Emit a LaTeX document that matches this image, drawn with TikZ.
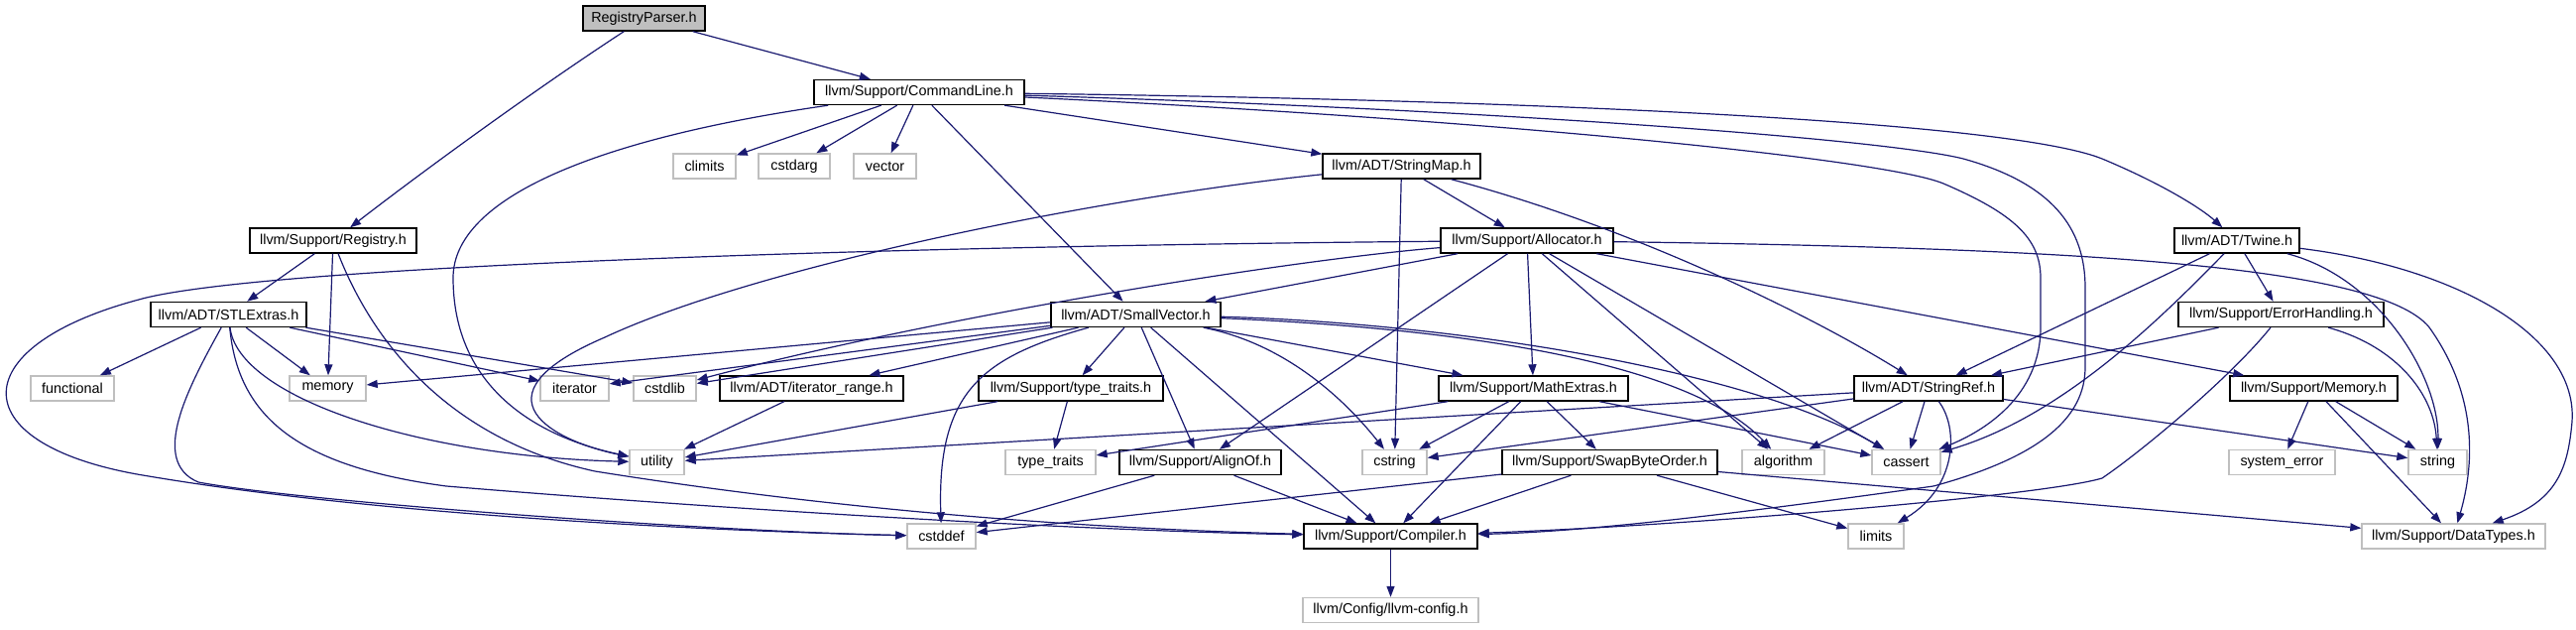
\documentclass[tikz,border=0pt]{standalone}
\usepackage{fontspec}
\setmainfont{Liberation Sans}
\usetikzlibrary{arrows.meta}
\definecolor{edgeblue}{HTML}{191970}
\definecolor{grayline}{HTML}{BFBFBF}
\definecolor{rootfill}{HTML}{BFBFBF}
\begin{document}
\begin{tikzpicture}[x=0.5pt,y=-0.5pt,
  hdr/.style={draw=black, fill=white, line width=0.7pt, minimum height=12.5pt, inner sep=0pt, font=\fontsize{7.2}{8}\selectfont, text=black},
  sysbox/.style={hdr, draw=grayline},
  rootbox/.style={hdr, fill=rootfill},
  edge/.style={draw=edgeblue, line width=0.6pt, -{Triangle[length=5.5pt,width=4pt]}}]
\fill[white] (0,0) rectangle (2598,635);
\useasboundingbox (0,0) rectangle (2598,635);
% row 0
\node[rootbox, minimum width=61.5pt] (rp) at (649.5,18.5) {RegistryParser.h};
% row 1
\node[hdr, minimum width=106pt] (cl) at (927,93) {llvm/Support/CommandLine.h};
% row 2
\node[sysbox, minimum width=31.5pt] (climits) at (710.5,167.5) {climits};
\node[sysbox, minimum width=36pt] (cstdarg) at (801,167.5) {cstdarg};
\node[sysbox, minimum width=31.5pt] (vector) at (892.5,167.5) {vector};
\node[hdr, minimum width=79.5pt] (smap) at (1413.5,167.5) {llvm/ADT/StringMap.h};
% row 3
\node[hdr, minimum width=84pt] (reg) at (336,242.5) {llvm/Support/Registry.h};
\node[hdr, minimum width=87pt] (alloc) at (1540,242.5) {llvm/Support/Allocator.h};
\node[hdr, minimum width=63pt] (twine) at (2256,242.5) {llvm/ADT/Twine.h};
% row 4
\node[hdr, minimum width=78.5pt] (stl) at (230.5,317) {llvm/ADT/STLExtras.h};
\node[hdr, minimum width=85.5pt] (sv) at (1145.5,317) {llvm/ADT/SmallVector.h};
\node[hdr, minimum width=103.5pt] (eh) at (2300.5,317) {llvm/Support/ErrorHandling.h};
% row 5
\node[sysbox, minimum width=42pt] (functional) at (73,391.5) {functional};
\node[sysbox, minimum width=38.5pt] (memory) at (330.5,391.5) {memory};
\node[sysbox, minimum width=34.5pt] (iterator) at (579.5,391.5) {iterator};
\node[sysbox, minimum width=31.5pt] (cstdlib) at (670.5,391.5) {cstdlib};
\node[hdr, minimum width=92.5pt] (itr) at (818.5,391.5) {llvm/ADT/iterator\_range.h};
\node[hdr, minimum width=93pt] (tt) at (1080,391.5) {llvm/Support/type\_traits.h};
\node[hdr, minimum width=95.5pt] (math) at (1546.5,391.5) {llvm/Support/MathExtras.h};
\node[hdr, minimum width=75pt] (sref) at (1945,391.5) {llvm/ADT/StringRef.h};
\node[hdr, minimum width=84.5pt] (mem) at (2333.5,391.5) {llvm/Support/Memory.h};
% row 6
\node[sysbox, minimum width=27.5pt] (utility) at (662.5,466) {utility};
\node[sysbox, minimum width=45.5pt] (stt) at (1059.5,466) {type\_traits};
\node[hdr, minimum width=81.5pt] (align) at (1210.5,466) {llvm/Support/AlignOf.h};
\node[sysbox, minimum width=32.5pt] (cstring) at (1406.5,466) {cstring};
\node[hdr, minimum width=108.5pt] (swap) at (1623.5,466) {llvm/Support/SwapByteOrder.h};
\node[sysbox, minimum width=41.5pt] (algorithm) at (1798.5,466) {algorithm};
\node[sysbox, minimum width=34.5pt] (cassert) at (1922.5,466) {cassert};
\node[sysbox, minimum width=53.5pt] (syserr) at (2301.5,466) {system\_error};
\node[sysbox, minimum width=29.5pt] (string) at (2458.5,466) {string};
% row 7
\node[sysbox, minimum width=34.5pt] (cstddef) at (949.5,540.5) {cstddef};
\node[hdr, minimum width=87.5pt] (comp) at (1402.5,540.5) {llvm/Support/Compiler.h};
\node[sysbox, minimum width=28pt] (limits) at (1892,540.5) {limits};
\node[sysbox, minimum width=92.5pt] (dt) at (2474.5,540.5) {llvm/Support/DataTypes.h};
% row 8
\node[sysbox, minimum width=88.5pt] (cfg) at (1402.5,615) {llvm/Config/llvm-config.h};

% ---- edges ----
% RegistryParser
\draw[edge] (rp) .. controls (540,90) and (430,170) .. (reg);
\draw[edge] (rp) -- (cl);
% CommandLine
\draw[edge] (cl) -- (climits);
\draw[edge] (cl) -- (cstdarg);
\draw[edge] (cl) -- (vector);
\draw[edge] (cl) -- (sv);
\draw[edge] (cl) -- (smap);
\draw[edge] (cl) .. controls (600,140) and (457,200) .. (457,280) .. controls (457,390) and (540,440) .. (utility);
\draw[edge] (cl) .. controls (1500,100) and (2020,120) .. (2120,160) .. controls (2180,185) and (2220,210) .. (twine);
\draw[edge] (cl) .. controls (1500,120) and (1900,160) .. (1960,185) .. controls (2030,215) and (2058,240) .. (2058,280) -- (2058,330) .. controls (2058,400) and (2000,435) .. (cassert);
\draw[edge] (cl) .. controls (1500,110) and (1900,140) .. (1980,160) .. controls (2070,185) and (2103,230) .. (2103,290) -- (2103,370) .. controls (2103,420) and (2060,460) .. (1950,490) .. controls (1750,518) and (1600,536) .. (comp);
% StringMap
\draw[edge] (smap) -- (cstring);
\draw[edge] (smap) -- (alloc);
\draw[edge] (smap) .. controls (1650,230) and (1830,320) .. (sref);
\draw[edge] (smap) .. controls (1100,200) and (760,270) .. (610,340) .. controls (470,400) and (560,445) .. (utility);
% Registry
\draw[edge] (reg) -- (stl);
\draw[edge] (reg) -- (memory);
\draw[edge] (reg) .. controls (370,330) and (440,440) .. (600,475) .. controls (850,515) and (1100,533) .. (comp);
% Allocator
\draw[edge] (alloc) .. controls (900,248) and (260,268) .. (140,302) .. controls (-40,350) and (-40,450) .. (150,480) .. controls (400,522) and (750,536) .. (cstddef);
\draw[edge] (alloc) .. controls (1300,262) and (950,318) .. (cstdlib);
\draw[edge] (alloc) -- (sv);
\draw[edge] (alloc) -- (align);
\draw[edge] (alloc) -- (math);
\draw[edge] (alloc) -- (algorithm);
\draw[edge] (alloc) -- (cassert);
\draw[edge] (alloc) -- (mem);
\draw[edge] (alloc) .. controls (2100,250) and (2400,268) .. (2450,330) .. controls (2500,400) and (2495,470) .. (dt);
% Twine
\draw[edge] (twine) -- (sref);
\draw[edge] (twine) .. controls (2180,320) and (2080,420) .. (cassert);
\draw[edge] (twine) -- (eh);
\draw[edge] (twine) .. controls (2400,280) and (2460,380) .. (string);
\draw[edge] (twine) .. controls (2480,270) and (2600,340) .. (2594,425) .. controls (2590,470) and (2580,505) .. (dt);
% ErrorHandling
\draw[edge] (eh) -- (sref);
\draw[edge] (eh) .. controls (2420,350) and (2455,400) .. (string);
\draw[edge] (eh) .. controls (2250,380) and (2160,455) .. (2120,482) .. controls (2060,500) and (1700,530) .. (comp);
% Memory
\draw[edge] (mem) -- (syserr);
\draw[edge] (mem) -- (string);
\draw[edge] (mem) -- (dt);
% StringRef
\draw[edge] (sref) -- (utility);
\draw[edge] (sref) -- (cstring);
\draw[edge] (sref) -- (algorithm);
\draw[edge] (sref) -- (cassert);
\draw[edge] (sref) -- (string);
\draw[edge] (sref) .. controls (1975,430) and (1975,490) .. (limits);
% MathExtras
\draw[edge] (math) -- (stt);
\draw[edge] (math) -- (cstring);
\draw[edge] (math) -- (comp);
\draw[edge] (math) -- (swap);
\draw[edge] (math) -- (cassert);
% SwapByteOrder
\draw[edge] (swap) -- (cstddef);
\draw[edge] (swap) -- (comp);
\draw[edge] (swap) -- (limits);
\draw[edge] (swap) -- (dt);
% AlignOf
\draw[edge] (align) -- (cstddef);
\draw[edge] (align) -- (comp);
% type_traits.h
\draw[edge] (tt) -- (utility);
\draw[edge] (tt) -- (stt);
% iterator_range
\draw[edge] (itr) -- (utility);
% SmallVector
\draw[edge] (sv) -- (memory);
\draw[edge] (sv) -- (iterator);
\draw[edge] (sv) -- (cstdlib);
\draw[edge] (sv) -- (itr);
\draw[edge] (sv) .. controls (990,360) and (945,395) .. (cstddef);
\draw[edge] (sv) -- (tt);
\draw[edge] (sv) -- (align);
\draw[edge] (sv) -- (comp);
\draw[edge] (sv) -- (math);
\draw[edge] (sv) .. controls (1290,345) and (1350,395) .. (cstring);
\draw[edge] (sv) .. controls (1450,330) and (1700,360) .. (algorithm);
\draw[edge] (sv) .. controls (1450,325) and (1760,370) .. (cassert);
% STLExtras
\draw[edge] (stl) -- (functional);
\draw[edge] (stl) -- (memory);
\draw[edge] (stl) -- (iterator);
\draw[edge] (stl) -- (cstdlib);
\draw[edge] (stl) .. controls (240,400) and (420,460) .. (utility);
\draw[edge] (stl) .. controls (240,420) and (300,470) .. (450,490) .. controls (750,515) and (1100,535) .. (comp);
\draw[edge] (stl) .. controls (190,390) and (150,465) .. (200,486) .. controls (300,505) and (700,535) .. (cstddef);
% Compiler
\draw[edge] (comp) -- (cfg);
\end{tikzpicture}
\end{document}
